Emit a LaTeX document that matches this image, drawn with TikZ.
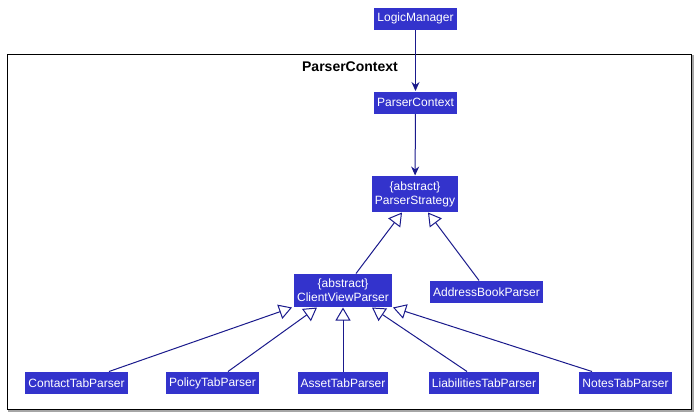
\documentclass[tikz,border=0pt]{standalone}
\usepackage{fontspec}
\setmainfont{Liberation Sans}
\usetikzlibrary{arrows.meta,positioning}

\definecolor{classblue}{RGB}{51,51,204}
\definecolor{linknavy}{RGB}{26,26,140}

\begin{document}
\begin{tikzpicture}[x=1pt,y=-1pt,>={Stealth[length=9pt,width=8pt,inset=3pt]},
  line width=1pt,
  class node/.style={fill=classblue,text=white,inner xsep=3pt,inner ysep=0pt,
    minimum height=22pt,align=center,font=\fontsize{12}{14}\selectfont},
  link/.style={draw=linknavy,->},
  extends/.style={draw=linknavy,-{Triangle[open,length=13pt,width=15pt,line width=1pt]}}]

  \useasboundingbox (0,0) rectangle (696,416);

  % package frame
  \draw[gray!70,line width=1.5pt] (9,56) rectangle (693,411);
  \draw[black,fill=white] (7,54) rectangle (691,409);
  \node[font=\fontsize{14}{16}\selectfont\bfseries] (title) at (350,67) {ParserContext};

  \node[class node] (lm) at (415.5,18.5) {LogicManager};
  \node[class node] (pc) at (415.5,102.5) {ParserContext};
  \node[class node,minimum height=36pt] (ps) at (415,194) {\{abstract\}\\ParserStrategy};
  \node[class node,minimum height=33pt] (cvp) at (343,290.5) {\{abstract\}\\ClientViewParser};
  \node[class node] (abp) at (486.5,292) {AddressBookParser};

  \node[class node] (contact) at (76.5,383) {ContactTabParser};
  \node[class node] (policy) at (212.5,383) {PolicyTabParser};
  \node[class node] (asset) at (343,383) {AssetTabParser};
  \node[class node] (liab) at (484,383) {LiabilitiesTabParser};
  \node[class node] (notes) at (625.5,383) {NotesTabParser};

  \path[link] (lm) -- (pc);
  \path[link] (pc) -- (ps);

  \path[extends] ([xshift=13pt]cvp.north) -- ([xshift=-13pt]ps.south);
  \path[extends] ([xshift=-7.5pt]abp.north) -- ([xshift=13pt]ps.south);

  \path[extends] ([xshift=32.5pt]contact.north) -- ([xshift=-51pt]cvp.south);
  \path[extends] ([xshift=15.5pt]policy.north) -- ([xshift=-26pt]cvp.south);
  \path[extends] (asset.north) -- (cvp.south);
  \path[extends] ([xshift=-17pt]liab.north) -- ([xshift=29pt]cvp.south);
  \path[extends] ([xshift=-33.5pt]notes.north) -- ([xshift=50pt]cvp.south);
\end{tikzpicture}
\end{document}
